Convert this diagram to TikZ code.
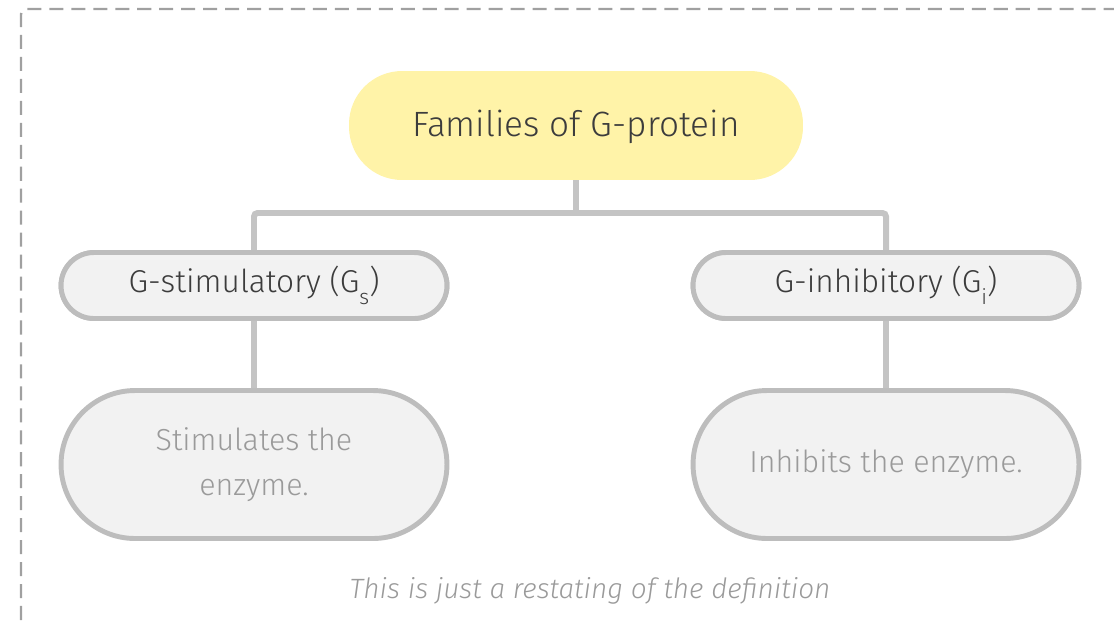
\documentclass[tikz,border=0pt]{standalone}
\usepackage{fontspec}
\setmainfont{Fira Sans}[UprightFont={* Light},ItalicFont={* Light Italic}]
\usetikzlibrary{positioning}

\definecolor{pillyellow}{HTML}{FFF3A8}
\definecolor{boxfill}{HTML}{F2F2F2}
\definecolor{boxedge}{HTML}{BDBDBD}
\definecolor{linkgray}{HTML}{C4C4C4}
\definecolor{frame}{HTML}{A0A0A0}
\definecolor{darktext}{HTML}{3C3C3C}
\definecolor{softtext}{HTML}{9A9A9A}

\newcommand{\lowsub}[1]{\raisebox{-0.7ex}{\fontsize{12}{14}\selectfont #1}}

\tikzset{
  headpill/.style={fill=pillyellow, rounded corners=1.06cm, minimum width=9.08cm,
    minimum height=2.12cm, inner sep=0pt, text=darktext, font=\fontsize{20}{24}\selectfont},
  kindpill/.style={draw=boxedge, line width=2.8pt, fill=boxfill, rounded corners=0.66cm,
    minimum width=7.72cm, minimum height=1.32cm, inner sep=0pt, text=darktext,
    font=\fontsize{18}{22}\selectfont},
  notepill/.style={draw=boxedge, line width=2.8pt, fill=boxfill, rounded corners=1.48cm,
    minimum width=7.72cm, minimum height=2.96cm, inner sep=0pt, text=softtext,
    align=center, font=\fontsize{17.3}{26}\selectfont},
  link/.style={draw=linkgray, line width=3.4pt, rounded corners=2pt}
}

\begin{document}
\begin{tikzpicture}[x=0.02cm, y=-0.02cm]
	\useasboundingbox (0,0) rectangle (1114,620);

	% Рамка
	\draw[frame, line width=1.4pt, dash pattern=on 8pt off 4.5pt, rounded corners=3pt]
		(21,620) -- (21,9) -- (1114,9);

	% Соединители
	\coordinate (fork) at (576,213);
	\node (gs) at (254,285.5) [kindpill] {};
	\node (gi) at (886,285.5) [kindpill] {};
	\node (head) at (576,124) [headpill] {};
	\draw[link] (head.south) -- (fork);
	\draw[link] (gs.north) -- (gs.north |- fork) -- (gi.north |- fork) -- (gi.north);
	\draw[link] (gs.south) -- ++(0,67);
	\draw[link] (gi.south) -- ++(0,67);

	% Узлы
	\node (head) at (576,127) [headpill] {Families of G-protein};
	\node (gs) at (254,285.5) [kindpill] {G-stimulatory (G\lowsub{s})};
	\node (gi) at (886,285.5) [kindpill] {G-inhibitory (G\lowsub{i})};
	\node (stim) at (254,464.5) [notepill] {Stimulates the\\enzyme.};
	\node (inhib) at (886,464.5) [notepill] {Inhibits the enzyme.};

	% Подпись
	\node (remark) at (590,591) [text=softtext, font=\fontsize{15.9}{19}\selectfont\itshape]
		{This is just a restating of the definition};
\end{tikzpicture}
\end{document}
